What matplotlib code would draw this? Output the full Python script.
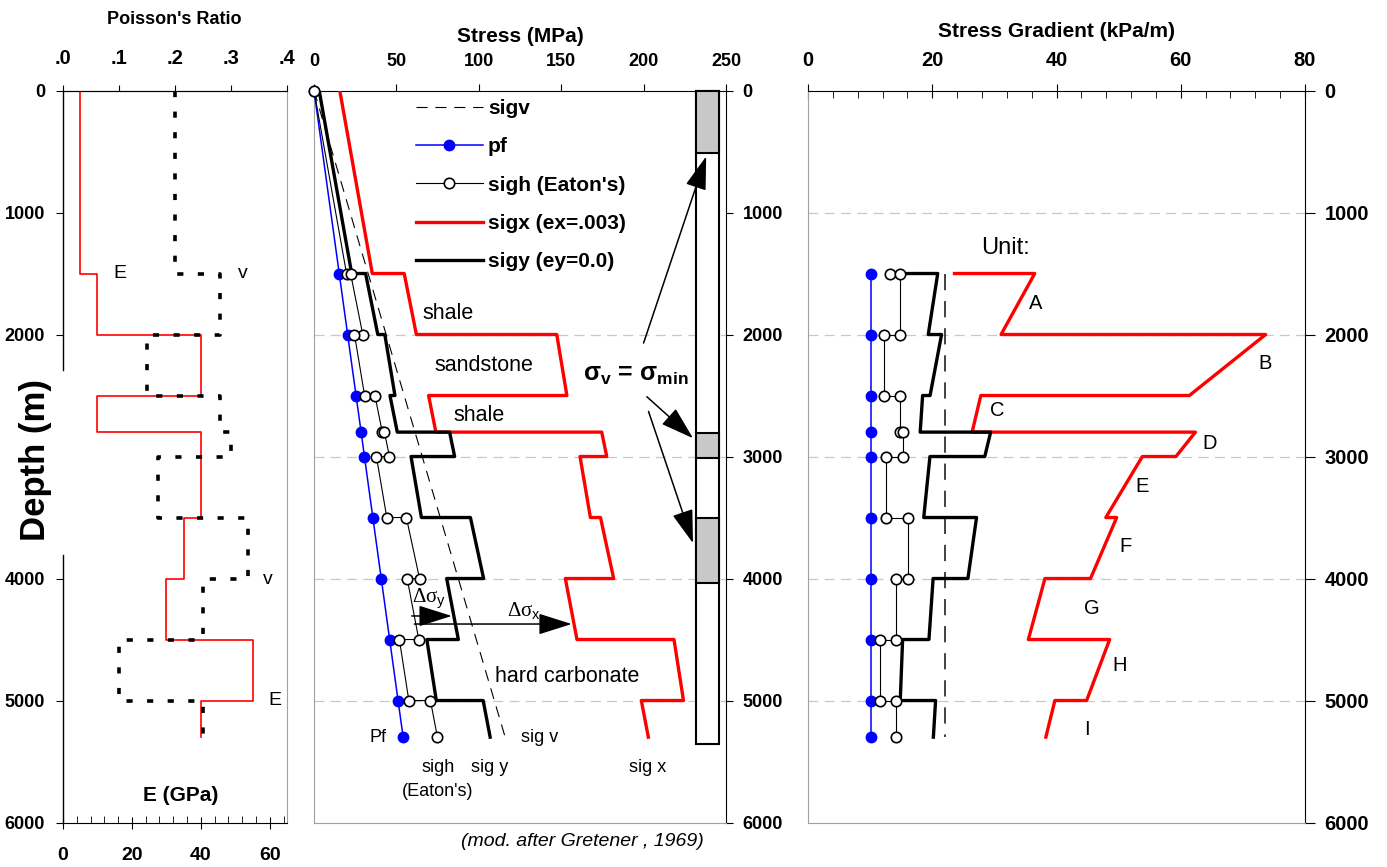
import numpy as np
import matplotlib
matplotlib.use("Agg")
import matplotlib.pyplot as plt
from matplotlib.patches import Rectangle
from matplotlib.ticker import MultipleLocator

plt.rcParams['font.family'] = ['Liberation Sans', 'DejaVu Sans']
plt.rcParams['mathtext.fontset'] = 'custom'
plt.rcParams['mathtext.rm'] = 'Liberation Sans'
plt.rcParams['mathtext.bf'] = 'Liberation Sans:bold'
plt.rcParams['mathtext.it'] = 'Liberation Sans:italic'

### data

# layers (m)
depth_top = [0, 1500, 2000, 2500, 2800, 3000, 3500, 4000, 4500, 5000]
depth_bot = [1500, 2000, 2500, 2800, 3000, 3500, 4000, 4500, 5000, 5300]
E_gpa = [5, 10, 40, 10, 40, 40, 35, 30, 55, 40]
poisson = [0.20, 0.28, 0.15, 0.28, 0.30, 0.17, 0.33, 0.25, 0.10, 0.25]

# stresses (MPa) at top / bottom of each layer
sigh_top = [0.0, 22.19, 24.56, 36.98, 42.73, 37.86, 56.04, 56.52, 51.80, 70.65]
sigh_bot = [19.73, 29.58, 30.70, 41.41, 45.78, 44.17, 64.04, 63.59, 57.55, 74.89]
sigx_top = [15.63, 54.74, 147.32, 69.53, 174.60, 161.43, 173.87, 152.52, 218.47, 198.65]
sigx_bot = [35.36, 62.13, 153.46, 73.96, 177.65, 167.74, 181.87, 159.59, 224.22, 202.89]
sigy_top = [3.13, 31.31, 42.97, 46.10, 82.29, 58.87, 94.92, 80.52, 68.47, 102.65]
sigy_bot = [22.86, 38.70, 49.11, 50.53, 85.34, 65.18, 102.92, 87.59, 74.22, 106.89]

pf_depth = [0, 1500, 2000, 2500, 2800, 3000, 3500, 4000, 4500, 5000, 5300]
pf_mpa = [0, 15.3, 20.4, 25.5, 28.6, 30.6, 35.7, 40.8, 45.9, 51.0, 54.1]
sigv_depth = [0, 5300]
sigv_mpa = [0, 116.0]

# gradients (kPa/m), first layer top undefined
nan = np.nan
gx_top = [nan, 36.49, 73.66, 27.81, 62.36, 53.81, 49.68, 38.13, 48.55, 39.73]
gx_bot = [23.57, 31.07, 61.38, 26.41, 59.22, 47.93, 45.47, 35.46, 44.84, 38.28]
gy_top = [nan, 20.87, 21.49, 18.44, 29.39, 19.62, 27.12, 20.13, 15.22, 20.53]
gy_bot = [15.24, 19.35, 19.64, 18.05, 28.45, 18.62, 25.73, 19.46, 14.84, 20.17]
gh_top = [nan, 14.79, 12.28, 14.79, 15.26, 12.62, 16.01, 14.13, 11.51, 14.13]
gh_bot = [13.15, 14.79, 12.28, 14.79, 15.26, 12.62, 16.01, 14.13, 11.51, 14.13]
gpf_depth = [1500, 2000, 2500, 2800, 3000, 3500, 4000, 4500, 5000, 5300]
gpf = [10.2] * 10
gv_depth = [1500, 5300]
gv = [22.0, 22.0]

# lithology column
col_gray_top = [0, 2810, 3500]
col_gray_bot = [510, 3015, 4035]
col_bottom = 5360

units = ['A', 'B', 'C', 'D', 'E', 'F', 'G', 'H', 'I']
unit_x = [36.7, 73.5, 30.4, 64.6, 53.8, 51.1, 45.7, 50.2, 44.9]
unit_y = [1744, 2236, 2619, 2892, 3248, 3739, 4244, 4709, 5236]


def steps(top, bot):
    xs, ys = [], []
    for t, b, zt, zb in zip(top, bot, depth_top, depth_bot):
        if not np.isnan(t):
            xs.append(t)
            ys.append(zt)
        xs.append(b)
        ys.append(zb)
    return xs, ys


GRAY = '#a0a0a0'
TB = dict(fontweight='bold')

fig = plt.figure(figsize=(13.87, 8.67), dpi=100)
ax1 = fig.add_axes([0.0454, 0.0513, 0.1615, 0.8443])
ax2 = fig.add_axes([0.2264, 0.0513, 0.2970, 0.8443])
ax3 = fig.add_axes([0.5826, 0.0513, 0.3583, 0.8443])

### left panel : E and Poisson's ratio

ex, ey = steps(E_gpa, E_gpa)
ax1.plot(ex, ey, color='red', lw=1.2)
ax1.set_xlim(0, 65)
ax1.set_ylim(6000, 0)
ax1.set_xticks([0, 20, 40, 60])
ax1.xaxis.set_minor_locator(MultipleLocator(4))
ax1.set_xticklabels(['0', '20', '40', '60'], fontsize=14, **TB)
ax1.set_yticks([0, 1000, 2000, 4000, 5000, 6000])
ax1.set_yticklabels(['0', '1000', '2000', '4000', '5000', '6000'], fontsize=13, **TB)
ax1.tick_params(axis='x', which='major', direction='inout', length=9, pad=13)
ax1.tick_params(axis='x', which='minor', direction='in', length=5)
ax1.tick_params(axis='y', direction='out', length=5, pad=8)
ax1.spines['left'].set_visible(False)
ax1.spines['right'].set_color(GRAY)
ax1.plot([0, 0], [0, 2290], color='k', lw=1, clip_on=False)
ax1.plot([0, 0], [3805, 6000], color='k', lw=1, clip_on=False)

ax1v = ax1.twiny()
vx, vy = steps(poisson, poisson)
ax1v.plot(vx, vy, color='k', lw=2.6, dashes=(1.7, 4.0), dash_capstyle='butt')
ax1v.set_xlim(0, 0.4)
ax1v.set_xticks([0, 0.1, 0.2, 0.3, 0.4])
ax1v.set_xticklabels(['.0', '.1', '.2', '.3', '.4'], fontsize=14.5, **TB)
ax1v.tick_params(axis='x', direction='out', length=4, pad=12)
for s in ['left', 'right', 'bottom']:
    ax1v.spines[s].set_visible(False)

ax1.text(16.5, 1498, 'E', fontsize=14, ha='center', va='center')
ax1.text(52.1, 1498, 'v', fontsize=14, ha='center', va='center')
ax1.text(59.4, 4012, 'v', fontsize=14, ha='center', va='center')
ax1.text(61.5, 5001, 'E', fontsize=14, ha='center', va='center')
ax1.text(34.2, 5775, 'E (GPa)', fontsize=15, ha='center', va='center', **TB)

fig.text(174.7 / 1387, 1 - 20 / 867, "Poisson's Ratio", fontsize=13, ha='center', va='center', **TB)
fig.text(35 / 1387, 1 - 460 / 867, 'Depth (m)', fontsize=25, rotation=90,
         ha='center', va='center', **TB)

### middle panel : stresses

for y in [2000, 3000, 4000, 5000]:
    ax2.axhline(y, color='#c8c8c8', lw=0.9, dashes=(8, 5), zorder=0)

l_sigv, = ax2.plot(sigv_mpa, sigv_depth, color='k', lw=0.8, dashes=(10, 7), label='sigv')
l_pf, = ax2.plot(pf_mpa, pf_depth, color='blue', lw=1.1, marker='o', ms=7.5,
                 mfc='blue', mec='blue', label='pf', zorder=3, clip_on=False)
hx, hy = steps(sigh_top, sigh_bot)
l_sigh, = ax2.plot(hx, hy, color='k', lw=0.8, marker='o', ms=7.5, mfc='white',
                   mec='k', mew=1.2, label="sigh (Eaton's)", zorder=4, clip_on=False)
xx, xy = steps(sigx_top, sigx_bot)
l_sigx, = ax2.plot(xx, xy, color='red', lw=2.4, label='sigx (ex=.003)', zorder=3)
yx, yy = steps(sigy_top, sigy_bot)
l_sigy, = ax2.plot(yx, yy, color='k', lw=2.4, label='sigy (ey=0.0)', zorder=3)

ax2.add_patch(Rectangle((232, 0), 14, col_bottom, facecolor='white', edgecolor='k',
                        lw=1.5, zorder=5, clip_on=False))
for t, b in zip(col_gray_top, col_gray_bot):
    ax2.add_patch(Rectangle((232, t), 14, b - t, facecolor='#c8c8c8', edgecolor='k',
                            lw=1.5, zorder=6, clip_on=False))

ax2.set_xlim(0, 250)
ax2.set_ylim(6000, 0)
ax2.xaxis.tick_top()
ax2.yaxis.tick_right()
ax2.set_xticks([0, 50, 100, 150, 200, 250])
ax2.set_xticklabels(['0', '50', '100', '150', '200', '250'], fontsize=13, **TB)
ax2.set_yticks(range(0, 6001, 1000))
ax2.set_yticklabels([str(v) for v in range(0, 6001, 1000)], fontsize=13, **TB)
ax2.tick_params(axis='x', direction='out', length=5, pad=10)
ax2.tick_params(axis='y', direction='out', length=5, pad=7)
ax2.spines['left'].set_color(GRAY)
ax2.spines['bottom'].set_color(GRAY)

ax2.legend(handles=[l_sigv, l_pf, l_sigh, l_sigx, l_sigy], loc='upper left',
           bbox_to_anchor=(0.2476, 0.988), frameon=False, numpoints=1,
           prop={'weight': 'bold', 'size': 15}, handlelength=3.2,
           handletextpad=0.25, labelspacing=0.92, borderpad=0, borderaxespad=0)

ax2.text(81.2, 1826, 'shale', fontsize=15.5, ha='center', va='center')
ax2.text(102.9, 2250, 'sandstone', fontsize=15.5, ha='center', va='center')
ax2.text(100.2, 2660, 'shale', fontsize=15.5, ha='center', va='center')
ax2.text(153.7, 4805, 'hard carbonate', fontsize=15.5, ha='center', va='center')
ax2.text(39, 5305, 'Pf', fontsize=13, ha='center', va='center')
ax2.text(137.1, 5305, 'sig v', fontsize=13, ha='center', va='center')
ax2.text(75.6, 5547, 'sigh', fontsize=13, ha='center', va='center')
ax2.text(75.1, 5747, "(Eaton's)", fontsize=13, ha='center', va='center')
ax2.text(106.8, 5547, 'sig y', fontsize=13, ha='center', va='center')
ax2.text(202.3, 5547, 'sig x', fontsize=13, ha='center', va='center')
ax2.text(195.3, 2332, 'σ$_\\mathbf{v}$ = σ$_\\mathbf{min}$', fontsize=18,
         ha='center', va='center', **TB)
ax2.text(59.3, 4162, 'Δσ$_\\mathrm{y}$', fontsize=15, ha='left', va='center',
         family='Liberation Serif')
ax2.text(117.3, 4272, 'Δσ$_\\mathrm{x}$', fontsize=15, ha='left', va='center',
         family='Liberation Serif')

arrows = [((200, 2070), (238, 540)),
          ((202, 2510), (230, 2850)),
          ((203, 2630), (230, 3710)),
          ((59.3, 4307), (83.6, 4307)),
          ((60.9, 4373), (156.4, 4373))]
for start, tip in arrows:
    ax2.annotate('', xy=tip, xytext=start, zorder=7,
                 arrowprops=dict(arrowstyle='-|>,head_length=0.95,head_width=0.3',
                                 color='k', lw=1.1, shrinkA=0, shrinkB=0,
                                 mutation_scale=22))

fig.text(582.5 / 1387, 1 - 842 / 867, '(mod. after Gretener , 1969)', fontsize=14,
         style='italic', ha='center', va='center')
fig.text(520 / 1387, 1 - 36.7 / 867, 'Stress (MPa)', fontsize=15, ha='center',
         va='center', **TB)

### right panel : gradients

for y in [1000, 2000, 3000, 4000, 5000]:
    ax3.axhline(y, color='#c8c8c8', lw=0.9, dashes=(8, 5), zorder=0)

ax3.plot(gv, gv_depth, color='#333333', lw=1.3, dashes=(9, 6))
ax3.plot(gpf, gpf_depth, color='blue', lw=1.1, marker='o', ms=7.5, mfc='blue',
         mec='blue', zorder=3)
ghx, ghy = steps(gh_top, gh_bot)
ax3.plot(ghx, ghy, color='k', lw=0.8, marker='o', ms=7.5, mfc='white', mec='k',
         mew=1.2, zorder=4)
gxx, gxy = steps(gx_top, gx_bot)
ax3.plot(gxx, gxy, color='red', lw=2.4, zorder=3)
gyx, gyy = steps(gy_top, gy_bot)
ax3.plot(gyx, gyy, color='k', lw=2.4, zorder=3)

for u, x, y in zip(units, unit_x, unit_y):
    ax3.text(x, y, u, fontsize=14.5, ha='center', va='center')
ax3.text(27.8, 1294, 'Unit:', fontsize=17, ha='left', va='center')

ax3.set_xlim(0, 80)
ax3.set_ylim(6000, 0)
ax3.xaxis.tick_top()
ax3.yaxis.tick_right()
ax3.set_xticks([0, 20, 40, 60, 80])
ax3.xaxis.set_minor_locator(MultipleLocator(4))
ax3.set_xticklabels(['0', '20', '40', '60', '80'], fontsize=14.5, **TB)
ax3.set_yticks(range(0, 6001, 1000))
ax3.set_yticklabels([str(v) for v in range(0, 6001, 1000)], fontsize=14.5, **TB)
ax3.tick_params(axis='x', which='major', direction='inout', length=10, pad=10)
ax3.tick_params(axis='x', which='minor', direction='in', length=5)
ax3.tick_params(axis='y', direction='out', length=7, pad=7)
ax3.spines['left'].set_color(GRAY)
ax3.spines['bottom'].set_color(GRAY)

fig.text(1057 / 1387, 1 - 31.7 / 867, 'Stress Gradient (kPa/m)', fontsize=15,
         ha='center', va='center', **TB)

fig.savefig('out.png', dpi=100)
